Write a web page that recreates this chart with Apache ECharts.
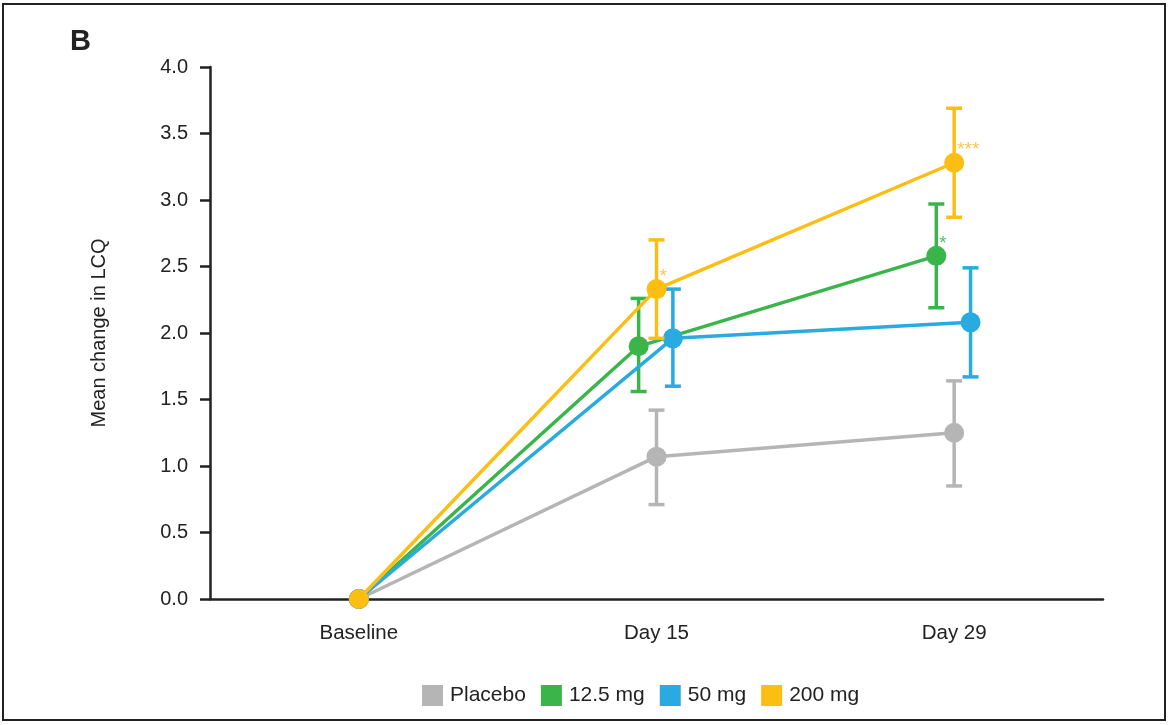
<!DOCTYPE html>
<html>
<head>
<meta charset="utf-8">
<script src="https://cdn.jsdelivr.net/npm/echarts@6/dist/echarts.min.js"></script>
<style>html,body{margin:0;padding:0;background:#fff}#c{width:1171px;height:725px}</style>
</head>
<body>
<div id="c"></div>
<script>
const categories = ['Baseline', 'Day 15', 'Day 29'];
const yTicks = ['0.0','0.5','1.0','1.5','2.0','2.5','3.0','3.5','4.0'];
const seriesNames = ['Placebo', '12.5 mg', '50 mg', '200 mg'];
const colors = ['#b5b5b5', '#39b54a', '#29abe2', '#fdbe14'];
const starColors = ['#b5b5b5', '#4cbf6e', '#29abe2', '#fcc55a'];
const dodge = [0, -0.06, 0.055, 0];

const placeboMean = [0, 1.07, 1.25];
const placeboLow  = [0, 0.71, 0.85];
const placeboHigh = [0, 1.42, 1.64];

const mg12Mean = [0, 1.90, 2.58];
const mg12Low  = [0, 1.56, 2.19];
const mg12High = [0, 2.26, 2.97];

const mg50Mean = [0, 1.96, 2.08];
const mg50Low  = [0, 1.60, 1.67];
const mg50High = [0, 2.33, 2.49];

const mg200Mean = [0, 2.33, 3.28];
const mg200Low  = [0, 1.96, 2.87];
const mg200High = [0, 2.70, 3.69];

const placeboSig = ['', '', ''];
const mg12Sig = ['', '', '*'];
const mg50Sig = ['', '', ''];
const mg200Sig = ['', '*', '***'];

const means = [placeboMean, mg12Mean, mg50Mean, mg200Mean];
const lows = [placeboLow, mg12Low, mg50Low, mg200Low];
const highs = [placeboHigh, mg12High, mg50High, mg200High];
const sigs = [placeboSig, mg12Sig, mg50Sig, mg200Sig];

const chart = echarts.init(document.getElementById('c'));
const series = [];
seriesNames.forEach((name, s) => {
  const errData = [];
  categories.forEach((c, i) => {
    if (highs[s][i] !== lows[s][i]) errData.push([i + (i === 0 ? 0 : dodge[s]), lows[s][i], highs[s][i]]);
  });
  series.push({
    type: 'custom',
    name: name,
    xAxisIndex: 1,
    z: 2 + s * 2,
    silent: true,
    data: errData,
    encode: {x: 0, y: [1, 2]},
    renderItem: function (params, api) {
      const x = api.value(0);
      const lo = api.coord([x, api.value(1)]);
      const hi = api.coord([x, api.value(2)]);
      const cap = 8;
      const st = {stroke: colors[s], lineWidth: 3.5};
      return {type: 'group', children: [
        {type: 'line', shape: {x1: lo[0], y1: lo[1], x2: hi[0], y2: hi[1]}, style: st},
        {type: 'line', shape: {x1: lo[0] - cap, y1: lo[1], x2: lo[0] + cap, y2: lo[1]}, style: st},
        {type: 'line', shape: {x1: hi[0] - cap, y1: hi[1], x2: hi[0] + cap, y2: hi[1]}, style: st}
      ]};
    }
  });
  series.push({
    type: 'line',
    name: name,
    xAxisIndex: 1,
    z: 3 + s * 2,
    symbol: 'circle',
    symbolSize: 20,
    itemStyle: {color: colors[s]},
    lineStyle: {color: colors[s], width: 3.5},
    data: categories.map((c, i) => ({
      value: [i + (i === 0 ? 0 : dodge[s]), means[s][i]],
      label: {
        show: sigs[s][i] !== '',
        formatter: sigs[s][i],
        position: [13, -12],
        color: starColors[s],
        fontSize: 19,
        fontFamily: 'Liberation Sans'
      }
    }))
  });
});

chart.setOption({
  animation: false,
  backgroundColor: '#fff',
  textStyle: {fontFamily: 'Liberation Sans'},
  graphic: [
    {type: 'rect', shape: {x: 3, y: 4, width: 1162, height: 716}, style: {fill: 'none', stroke: '#222', lineWidth: 2}},
    {type: 'text', left: 70, top: 27, style: {text: 'B', font: 'bold 29px Liberation Sans', fill: '#222'}}
  ],
  legend: {
    bottom: 14,
    left: 417,
    icon: 'rect',
    itemWidth: 21,
    itemHeight: 21,
    itemGap: 15,
    textStyle: {fontSize: 21, color: '#222', padding: [0, 0, 0, 2]},
    data: seriesNames.map((n, s) => ({name: n, itemStyle: {color: colors[s]}}))
  },
  grid: {left: 210, right: 68, top: 67, bottom: 126},
  xAxis: [
    {
      type: 'category',
      data: categories,
      boundaryGap: true,
      axisLine: {lineStyle: {color: '#222', width: 2.5}},
      axisTick: {show: false},
      axisLabel: {fontSize: 20.5, color: '#222', margin: 24}
    },
    {
      type: 'value',
      min: -0.5,
      max: 2.5,
      show: false
    }
  ],
  yAxis: {
    type: 'value',
    min: 0,
    max: 4,
    interval: 0.5,
    name: 'Mean change in LCQ',
    nameLocation: 'middle',
    nameGap: 101,
    nameTextStyle: {fontSize: 20, color: '#222'},
    axisLine: {show: true, onZero: false, lineStyle: {color: '#222', width: 2.5}},
    axisTick: {show: true, length: 10, lineStyle: {color: '#222', width: 2.5}},
    axisLabel: {fontSize: 20, color: '#222', margin: 22, formatter: v => yTicks[Math.round(v * 2)]},
    splitLine: {show: false}
  },
  series: series
});
</script>
</body>
</html>
